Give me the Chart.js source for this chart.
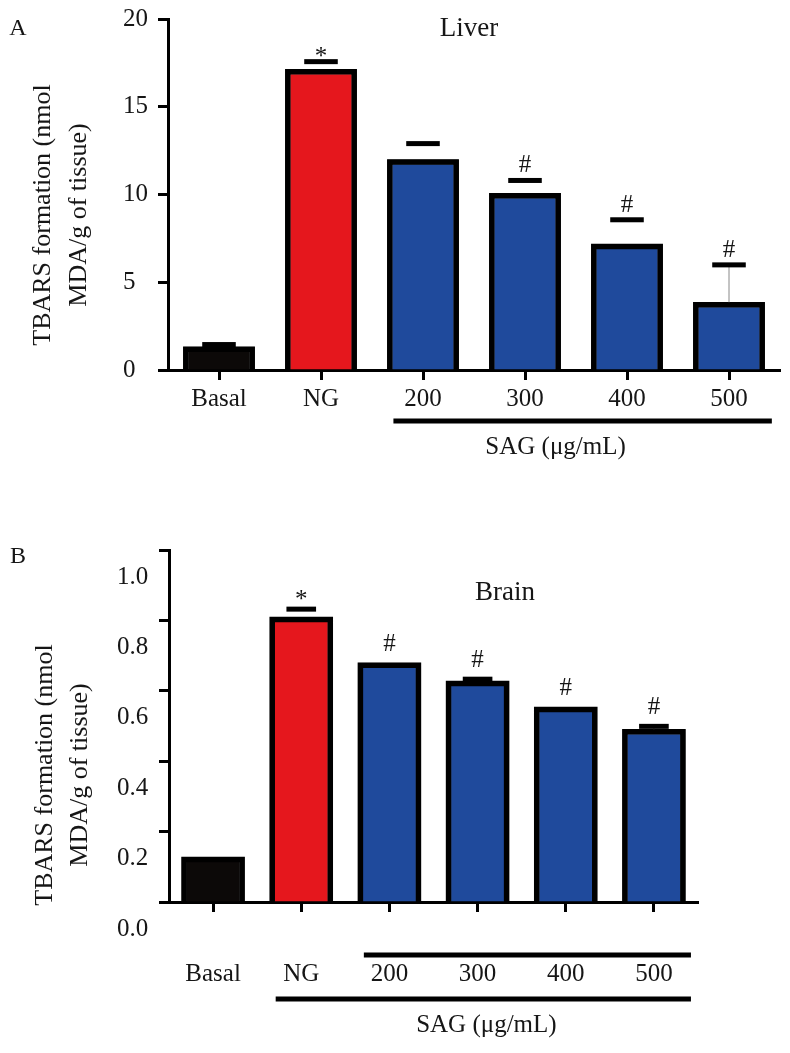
<!DOCTYPE html>
<html>
<head>
<meta charset="utf-8">
<script src="https://cdn.jsdelivr.net/npm/chart.js@4.4.1/dist/chart.umd.min.js"></script>
<style>
  html, body { margin: 0; padding: 0; background: #fff; }
  #wrap { position: relative; width: 790px; height: 1053px; }
  canvas { position: absolute; left: 0; }
  #chart-a { top: 0; }
  #chart-b { top: 480px; }
</style>
</head>
<body>
<div id="wrap">
  <canvas id="chart-a" width="790" height="480"></canvas>
  <canvas id="chart-b" width="790" height="573"></canvas>
</div>
<script>
const groups = ["Basal", "NG", "200", "300", "400", "500"];
const barColors = ["#0c0908", "#e5171d", "#1f4a9c", "#1f4a9c", "#1f4a9c", "#1f4a9c"];

// panel A - liver
const liverValues = [1.33, 17.13, 12.0, 10.07, 7.18, 3.86];
const liverSem = [0.12, 0.44, 0.9, 0.73, 1.38, 2.13];
const liverMarks = ["", "*", "", "#", "#", "#"];
const liverTicks = [0, 5, 10, 15, 20];

// panel B - brain
const brainValues = [0.128, 0.81, 0.68, 0.628, 0.554, 0.491];
const brainSem = [null, 0.022, null, 0.005, null, 0.008];
const brainMarks = ["", "*", "#", "#", "#", "#"];
const brainTicks = [0, 0.2, 0.4, 0.6, 0.8, 1.0];

const serif = "'Liberation Serif', 'Times New Roman', serif";

const annotations = {
  id: "annotations",
  afterDatasetsDraw(chart, args, opts) {
    const ctx = chart.ctx;
    const x = chart.scales.x;
    const y = chart.scales.y;
    const bars = chart.getDatasetMeta(0).data;
    const step = x.getPixelForTick(1) - x.getPixelForTick(0);

    ctx.save();

    // re-stroke left/top/right of each bar so no seam shows between border and fill
    ctx.strokeStyle = "#000";
    ctx.lineWidth = 5.5;
    ctx.lineJoin = "miter";
    bars.forEach((bar) => {
      const left = bar.x - bar.width / 2 + 2.5;
      const right = bar.x + bar.width / 2 - 2.5;
      ctx.beginPath();
      ctx.moveTo(left, bar.base);
      ctx.lineTo(left, bar.y + 2.5);
      ctx.lineTo(right, bar.y + 2.5);
      ctx.lineTo(right, bar.base);
      ctx.stroke();
    });

    // error bars (upper only); the stem only shows on the last bar
    opts.sem.forEach((sem, i) => {
      if (sem == null) return;
      const bar = bars[i];
      const top = y.getPixelForValue(opts.values[i] + sem);
      if (i === opts.sem.length - 1) {
        ctx.strokeStyle = "#888";
        ctx.lineWidth = 1;
        ctx.beginPath();
        ctx.moveTo(bar.x, bar.y);
        ctx.lineTo(bar.x, top);
        ctx.stroke();
      }
      const w = bar.width * 0.47;
      ctx.fillStyle = "#000";
      ctx.fillRect(bar.x - w / 2, top - 2.5, w, 5);
    });

    // significance marks
    ctx.font = `25px ${serif}`;
    ctx.textAlign = "center";
    ctx.textBaseline = "alphabetic";
    ctx.fillStyle = "#161616";
    opts.marks.forEach((mark, i) => {
      if (!mark) return;
      const v = opts.values[i] + (opts.sem[i] || 0);
      const gap = mark === "*" ? opts.markGap - 10 : opts.markGap;
      ctx.fillText(mark, bars[i].x, y.getPixelForValue(v) - gap);
    });

    // SAG bracket lines under the x labels
    ctx.fillStyle = "#000";
    opts.brackets.forEach((b) => {
      const x0 = x.getPixelForTick(b.from) - 0.29 * step;
      const x1 = x.getPixelForTick(b.to) + 0.42 * step;
      ctx.fillRect(x0, x.top + b.dy - 2.5, x1 - x0, 5);
    });

    ctx.font = `25px ${serif}`;
    ctx.textBaseline = "middle";
    ctx.fillStyle = "#161616";
    ctx.fillText("SAG (\u03bcg/mL)", x.getPixelForTick(0) + opts.unitAt * step, x.top + opts.unitDy);

    // panel letter and organ title
    ctx.font = `24px ${serif}`;
    ctx.fillText(opts.letter, 18, opts.letterY);
    ctx.font = `27px ${serif}`;
    ctx.fillText(opts.title, opts.titleX, opts.titleY);

    // y axis title, two rotated lines
    ctx.font = `26px ${serif}`;
    ["TBARS formation (nmol", "MDA/g of tissue)"].forEach((line, k) => {
      ctx.save();
      ctx.translate(opts.yTitleX[k], opts.yTitleY);
      ctx.rotate(-Math.PI / 2);
      ctx.fillText(line, 0, 0);
      ctx.restore();
    });

    ctx.restore();
  },
};

function makeChart(el, cfg) {
  return new Chart(el, {
    type: "bar",
    data: {
      labels: groups,
      datasets: [
        {
          data: cfg.values,
          backgroundColor: barColors,
          borderColor: "#000",
          borderWidth: 5,
          inflateAmount: 0,
          barPercentage: 1,
          categoryPercentage: cfg.catPct,
        },
      ],
    },
    options: {
      responsive: false,
      animation: false,
      layout: { padding: cfg.padding },
      plugins: {
        legend: { display: false },
        tooltip: { enabled: false },
        annotations: cfg.notes,
      },
      scales: {
        x: {
          afterFit: (scale) => { scale.height = cfg.xHeight; },
          border: { display: true, color: "#000", width: 3 },
          grid: {
            offset: false,
            drawOnChartArea: false,
            drawTicks: true,
            tickLength: 10,
            tickWidth: 3,
            tickColor: "#000",
            color: "#000",
          },
          ticks: {
            color: "#161616",
            padding: cfg.xPad,
            font: { family: serif, size: 25 },
          },
        },
        y: {
          min: cfg.ticks[0],
          max: cfg.ticks[cfg.ticks.length - 1],
          afterFit: (scale) => { scale.width = cfg.yWidth; },
          afterBuildTicks: (scale) => {
            scale.ticks = cfg.ticks.map((v) => ({ value: v }));
          },
          border: { display: true, color: "#000", width: 3 },
          grid: {
            drawOnChartArea: false,
            drawTicks: true,
            tickLength: 10,
            tickWidth: 3,
            tickColor: "#000",
            color: "#000",
          },
          ticks: {
            color: "#161616",
            crossAlign: "far",
            padding: 4,
            labelOffset: cfg.yLabelOffset,
            font: { family: serif, size: 25 },
            callback: cfg.fmt,
          },
        },
      },
    },
    plugins: [annotations],
  });
}

makeChart(document.getElementById("chart-a"), {
  values: liverValues,
  ticks: liverTicks,
  catPct: 0.7,
  padding: { top: 19, right: 10, bottom: 0, left: 123 },
  xHeight: 110,
  yWidth: 45,
  xPad: 4,
  yLabelOffset: 0,
  fmt: (v) => String(v),
  notes: {
    values: liverValues,
    sem: liverSem,
    marks: liverMarks,
    markGap: 8,
    brackets: [{ from: 2, to: 5, dy: 51 }],
    unitAt: 3.3,
    unitDy: 77,
    letter: "A",
    letterY: 29,
    title: "Liver",
    titleX: 469,
    titleY: 29,
    yTitleX: [43, 79],
    yTitleY: 215,
  },
});

makeChart(document.getElementById("chart-b"), {
  values: brainValues,
  ticks: brainTicks,
  catPct: 0.715,
  padding: { top: 70, right: 92, bottom: 0, left: 117 },
  xHeight: 151,
  yWidth: 52,
  xPad: 47,
  yLabelOffset: 27,
  fmt: (v) => v.toFixed(1),
  notes: {
    values: brainValues,
    sem: brainSem,
    marks: brainMarks,
    markGap: 12,
    brackets: [
      { from: 2, to: 5, dy: 53 },
      { from: 1, to: 5, dy: 97 },
    ],
    unitAt: 3.1,
    unitDy: 123,
    letter: "B",
    letterY: 77,
    title: "Brain",
    titleX: 505,
    titleY: 113,
    yTitleX: [45, 80],
    yTitleY: 295,
  },
});
</script>
</body>
</html>
